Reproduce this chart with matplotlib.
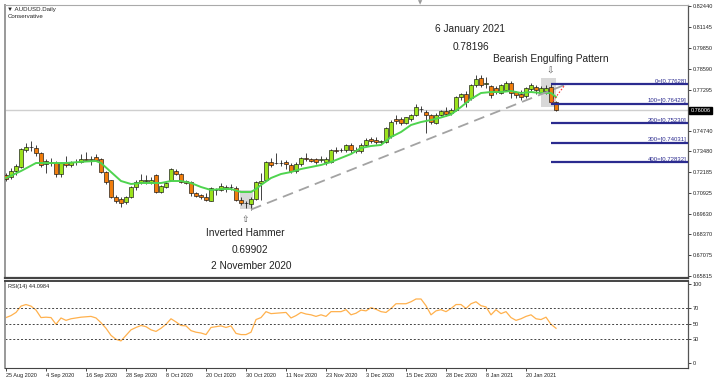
import matplotlib
matplotlib.use('Agg')
import matplotlib.pyplot as plt
import numpy as np
from matplotlib.patches import Rectangle
from matplotlib.transforms import blended_transform_factory

plt.rcParams['font.family'] = ['Liberation Sans', 'DejaVu Sans']

# daily candles, 25 Aug 2020 -> 28 Jan 2021 (one row per bar)
opens = [0.7200, 0.7188, 0.7228, 0.7252, 0.7360, 0.7374, 0.7372, 0.7336, 0.7270, 0.7282,
         0.7278, 0.7212, 0.7275, 0.7262, 0.7282, 0.7280, 0.7300, 0.7296, 0.7312, 0.7300,
         0.7222, 0.7170, 0.7068, 0.7055, 0.7037, 0.7067, 0.7129, 0.7158, 0.7165, 0.7160,
         0.7200, 0.7098, 0.7128, 0.7172, 0.7228, 0.7210, 0.7165, 0.7160, 0.7090, 0.7078,
         0.7067, 0.7045, 0.7112, 0.7112, 0.7118, 0.7128, 0.7125, 0.7050, 0.7030, 0.7025,
         0.7055, 0.7155, 0.7170, 0.7285, 0.7275, 0.7275, 0.7285, 0.7265, 0.7225, 0.7268,
         0.7310, 0.7300, 0.7300, 0.7295, 0.7285, 0.7282, 0.7360, 0.7355, 0.7357, 0.7385,
         0.7360, 0.7350, 0.7390, 0.7425, 0.7420, 0.7405, 0.7408, 0.7445, 0.7548, 0.7548,
         0.7525, 0.7545, 0.7572, 0.7610, 0.7590, 0.7575, 0.7525, 0.7575, 0.7600, 0.7582,
         0.7604, 0.7683, 0.7705, 0.7677, 0.7757, 0.7800, 0.7765, 0.7750, 0.7739, 0.7708,
         0.7727, 0.7770, 0.7714, 0.7705, 0.7690, 0.7730, 0.7745, 0.7710, 0.7722, 0.7745,
         0.7653]
highs = [0.7215, 0.7245, 0.7272, 0.7370, 0.7400, 0.7413, 0.7390, 0.7345, 0.7300, 0.7305,
         0.7290, 0.7280, 0.7320, 0.7290, 0.7300, 0.7335, 0.7345, 0.7320, 0.7330, 0.7305,
         0.7230, 0.7175, 0.7080, 0.7065, 0.7075, 0.7135, 0.7170, 0.7210, 0.7200, 0.7190,
         0.7210, 0.7140, 0.7160, 0.7245, 0.7242, 0.7215, 0.7170, 0.7165, 0.7100, 0.7085,
         0.7095, 0.7130, 0.7125, 0.7155, 0.7140, 0.7150, 0.7135, 0.7065, 0.7045, 0.7065,
         0.7165, 0.7215, 0.7290, 0.7310, 0.7340, 0.7295, 0.7295, 0.7275, 0.7280, 0.7315,
         0.7340, 0.7310, 0.7305, 0.7320, 0.7315, 0.7365, 0.7375, 0.7372, 0.7395, 0.7400,
         0.7375, 0.7400, 0.7430, 0.7440, 0.7435, 0.7420, 0.7500, 0.7540, 0.7573, 0.7560,
         0.7560, 0.7580, 0.7640, 0.7625, 0.7605, 0.7580, 0.7585, 0.7605, 0.7620, 0.7615,
         0.7690, 0.7710, 0.7720, 0.7765, 0.78196, 0.7819, 0.7805, 0.7760, 0.7750, 0.7765,
         0.7785, 0.7785, 0.7722, 0.7727, 0.7745, 0.7770, 0.7755, 0.7750, 0.7757, 0.77628,
         0.7660]
lows = [0.7165, 0.7180, 0.7205, 0.7245, 0.7345, 0.7352, 0.7320, 0.7255, 0.7215, 0.7260,
        0.7190, 0.7190, 0.7255, 0.7255, 0.7265, 0.7275, 0.7290, 0.7262, 0.7290, 0.7215,
        0.7150, 0.7060, 0.7030, 0.7006, 0.7025, 0.7060, 0.7110, 0.7150, 0.7145, 0.7150,
        0.7095, 0.7090, 0.7120, 0.7165, 0.7200, 0.7155, 0.7145, 0.7075, 0.7065, 0.7055,
        0.7040, 0.7040, 0.7080, 0.7105, 0.7100, 0.7110, 0.7040, 0.7020, 0.7000, 0.69902,
        0.7050, 0.7050, 0.7165, 0.7250, 0.7270, 0.7260, 0.7240, 0.7215, 0.7215, 0.7260,
        0.7290, 0.7280, 0.7270, 0.7280, 0.7265, 0.7275, 0.7340, 0.7345, 0.7345, 0.7340,
        0.7340, 0.7340, 0.7380, 0.7400, 0.7395, 0.7395, 0.7400, 0.7430, 0.7520, 0.7510,
        0.7515, 0.7535, 0.7565, 0.7590, 0.7462, 0.7520, 0.7515, 0.7565, 0.7565, 0.7570,
        0.7595, 0.7665, 0.7622, 0.7665, 0.7745, 0.7745, 0.7740, 0.7680, 0.7700, 0.7700,
        0.7720, 0.7677, 0.7680, 0.7665, 0.7680, 0.7720, 0.7700, 0.7700, 0.7705, 0.76429,
        0.7595]
closes = [0.7180, 0.7230, 0.7258, 0.7362, 0.7374, 0.7376, 0.7336, 0.7265, 0.7290, 0.7278,
          0.7212, 0.7275, 0.7262, 0.7280, 0.7286, 0.7300, 0.7298, 0.7300, 0.7298, 0.7222,
          0.7160, 0.7067, 0.7040, 0.7033, 0.7067, 0.7129, 0.7160, 0.7172, 0.7170, 0.7172,
          0.7100, 0.7133, 0.7153, 0.7240, 0.7210, 0.7160, 0.7155, 0.7090, 0.7075, 0.7067,
          0.7050, 0.7125, 0.7110, 0.7135, 0.7132, 0.7130, 0.7050, 0.7030, 0.7028, 0.7055,
          0.7160, 0.7165, 0.7285, 0.7265, 0.7278, 0.7276, 0.7270, 0.7225, 0.7270, 0.7305,
          0.7300, 0.7292, 0.7285, 0.7300, 0.7300, 0.7355, 0.7352, 0.7356, 0.7385, 0.7355,
          0.7350, 0.7390, 0.7420, 0.7415, 0.7405, 0.7410, 0.7490, 0.7530, 0.7535, 0.7525,
          0.7558, 0.7572, 0.7622, 0.7608, 0.7575, 0.7530, 0.7575, 0.7595, 0.7580, 0.7605,
          0.7683, 0.7705, 0.7650, 0.7757, 0.7795, 0.7760, 0.7772, 0.7696, 0.7712, 0.7757,
          0.7770, 0.7708, 0.7698, 0.7685, 0.7739, 0.7757, 0.7725, 0.7737, 0.7740, 0.7653,
          0.76006]

# moving average (bar index, price)
ma_bars = [0, 3, 6, 9, 12, 16, 18, 19, 21, 23, 25, 27, 31, 33, 35, 37, 39, 41, 43, 45,
           47, 49, 50, 51, 53, 55, 57, 59, 61, 63, 65, 67, 69, 71, 73, 75, 77, 79, 81, 83,
           85, 87, 89, 91, 93, 95, 97, 99, 101, 103, 105, 107, 109, 110]
ma_vals = [0.71845, 0.72276, 0.72769, 0.72769, 0.72769, 0.72861, 0.72892, 0.72769, 0.72214, 0.7166,
           0.71475, 0.71537, 0.71537, 0.7166, 0.7166, 0.71537, 0.7129, 0.71106, 0.71167, 0.71167,
           0.70982, 0.70982, 0.71167, 0.71414, 0.71845, 0.72091, 0.72214, 0.72399, 0.72522, 0.72646,
           0.7283, 0.73077, 0.73323, 0.73693, 0.73816, 0.73878, 0.7437, 0.74678, 0.7511, 0.75294,
           0.75418, 0.75572, 0.75756, 0.76218, 0.76711, 0.77081, 0.77142, 0.77142, 0.77204, 0.77081,
           0.77142, 0.77081, 0.77081, 0.76834]

rsi = [57.5, 60, 64, 72, 74, 72, 67, 57.5, 58, 57.5,
       49, 57, 54, 56, 57, 58, 58.5, 59, 57, 51,
       44, 35, 30, 28, 35, 42, 45, 47.5, 46, 42,
       40, 44, 49, 56, 52, 47.5, 47, 41, 39, 38,
       36, 45, 46, 47, 45, 47, 37.5, 36, 36, 39,
       55, 57.5, 65, 62.5, 63, 63.5, 64, 57, 60, 64,
       62, 61, 59, 61, 59, 65, 65, 65, 67.5, 61,
       63, 67, 66, 70, 68, 65, 64, 69, 75, 75,
       75, 77.5, 81, 81, 72.5, 61, 66, 67.5, 65, 69,
       74, 74, 69, 75, 77.5, 72.5, 71, 61, 67.5, 62.5,
       65, 57.5, 54, 56, 59, 61, 56, 55, 58, 49,
       44]

tick_bars = [0, 8, 16, 24, 32, 40, 48, 56, 64, 72, 80, 88, 96, 104]
tick_labels = ['25 Aug 2020', '4 Sep 2020', '16 Sep 2020', '28 Sep 2020', '8 Oct 2020',
               '20 Oct 2020', '30 Oct 2020', '11 Nov 2020', '23 Nov 2020', '3 Dec 2020',
               '15 Dec 2020', '28 Dec 2020', '8 Jan 2021', '20 Jan 2021']
price_ticks = [0.82440, 0.81145, 0.79850, 0.78590, 0.77295, 0.74740, 0.73480,
               0.72185, 0.70925, 0.69630, 0.68370, 0.67075, 0.65815]

fib_names = ['0', '100', '200', '300', '400']
fib_levels = [0.77628, 0.76429, 0.75230, 0.74031, 0.72832]
last_price = 0.76006

W, H = 717, 381


def px(x, y):
    return x / W, 1 - y / H


fig = plt.figure(figsize=(W / 100, H / 100), dpi=100)
ax = fig.add_axes([5 / W, 1 - 278 / H, 683 / W, 273 / H])
ax2 = fig.add_axes([5 / W, 1 - 368 / H, 683 / W, 87 / H])

o = np.array(opens)
h = np.array(highs)
l = np.array(lows)
c = np.array(closes)
x = np.arange(len(c))
up = c >= o
body = np.maximum(np.abs(c - o), 0.00009)

# candles
ax.vlines(x, l, h, color='#222222', lw=0.6, zorder=3)
ax.bar(x[up], body[up], bottom=o[up], width=0.62, color='#9be21c',
       edgecolor='#111111', lw=0.45, zorder=4)
ax.bar(x[~up], body[~up], bottom=c[~up], width=0.62, color='#f07d0c',
       edgecolor='#111111', lw=0.45, zorder=4)

ax.plot(ma_bars, ma_vals, color='#4fd44f', lw=1.4, zorder=5)

# highlight boxes, trendline, fib
ax.add_patch(Rectangle((46.8, 0.6993), 2.6, 0.0118, color='#d8d8d8', zorder=1, lw=0))
ax.add_patch(Rectangle((107.0, 0.7620), 3.0, 0.0180, color='#d8d8d8', zorder=1, lw=0))
ax.axhline(last_price, color='#cfcfcf', lw=1.0, zorder=0)
ax.plot([49, 112], [0.69902, 0.7761], color='#a3a3a3', lw=1.3, ls=(0, (6, 3.5)), zorder=6)
ax.plot([109, 111.9], [fib_levels[1], fib_levels[0]], color='#ff3030', lw=0.8,
        ls=(0, (1.5, 1.5)), zorder=6)
ax.hlines(fib_levels, 109, 136.4, color='#2b2b8f', lw=1.6, zorder=6)
for name, lvl in zip(fib_names, fib_levels):
    ax.text(136.1, lvl + 0.0002, f'{name}=[{lvl:.5f}]', ha='right', va='bottom',
            fontsize=4.3, color='#2b2b8f', zorder=7)

ax.set_xlim(-0.2, 136.4)
ax.set_ylim(0.65685, 0.82502)
ax.yaxis.tick_right()
ax.set_yticks(price_ticks)
ax.set_yticklabels([f'{t:.5f}' for t in price_ticks])
ax.tick_params(axis='y', labelsize=4, length=2, width=0.6, pad=1.5, colors='#222222')
ax.set_xticks([])

tr = blended_transform_factory(ax.transAxes, ax.transData)
ax.text(1.004, last_price, f'{last_price:.5f}', transform=tr, ha='left', va='center',
        fontsize=4, color='white',
        bbox=dict(facecolor='black', edgecolor='black', pad=0.9))

# RSI panel
ax2.plot(np.arange(len(rsi)), rsi, color='#ffb14d', lw=0.9)
for lvl in [70, 50, 30]:
    ax2.axhline(lvl, color='#444444', lw=0.7, ls=(0, (2, 2)))
ax2.set_xlim(-0.2, 136.4)
ax2.set_ylim(-6.25, 103.75)
ax2.yaxis.tick_right()
ax2.set_yticks([0, 30, 50, 70, 100])
ax2.tick_params(axis='y', labelsize=4, length=2, width=0.6, pad=1.5, colors='#222222')
ax2.set_xticks(tick_bars)
ax2.set_xticklabels(tick_labels)
ax2.tick_params(axis='x', labelsize=4, length=2, width=0.6, pad=1.5, colors='#222222')
for lab in ax2.get_xticklabels():
    lab.set_ha('left')
ax2.text(0.005, 0.96, 'RSI(14) 44.0984', transform=ax2.transAxes, fontsize=4,
         va='top', ha='left', color='#222222')

for a in (ax, ax2):
    a.spines['left'].set_color('#999999')
    a.spines['left'].set_linewidth(1.4)
    a.spines['right'].set_color('#555555')
    a.spines['right'].set_linewidth(0.9)
    a.spines['top'].set_color('#aaaaaa')
    a.spines['bottom'].set_color('#444444')
ax.spines['bottom'].set_linewidth(1.6)
ax2.spines['top'].set_linewidth(1.4)
ax2.spines['top'].set_color('#444444')

# annotations
fs = 7.3
fig.text(*px(470, 29), '6 January 2021', ha='center', va='center', fontsize=fs, color='#222222')
fig.text(*px(471, 47), '0.78196', ha='center', va='center', fontsize=fs, color='#222222')
fig.text(*px(551, 59), 'Bearish Engulfing Pattern', ha='center', va='center', fontsize=fs, color='#222222')
fig.text(*px(245, 233), 'Inverted Hammer', ha='center', va='center', fontsize=fs, color='#222222')
fig.text(*px(250, 250), '0.69902', ha='center', va='center', fontsize=fs, color='#222222')
fig.text(*px(251, 266), '2 November 2020', ha='center', va='center', fontsize=fs, color='#222222')
fig.text(*px(245, 219), '⇧', ha='center', va='center', fontsize=6.5, color='#555555',
         family='DejaVu Sans')
fig.text(*px(550, 71), '⇩', ha='center', va='center', fontsize=6.5, color='#555555',
         family='DejaVu Sans')

fig.text(*px(7, 9), '▼ AUDUSD.Daily', ha='left', va='center', fontsize=4.4, color='#222222',
         family=['Liberation Sans', 'DejaVu Sans'])
fig.text(*px(8, 17), 'Conservative', ha='left', va='center', fontsize=4.4, color='#222222')
fig.text(*px(420, 3), '▼', ha='center', va='center', fontsize=4, color='#999999',
         family='DejaVu Sans')

fig.savefig('out.png', dpi=100)
